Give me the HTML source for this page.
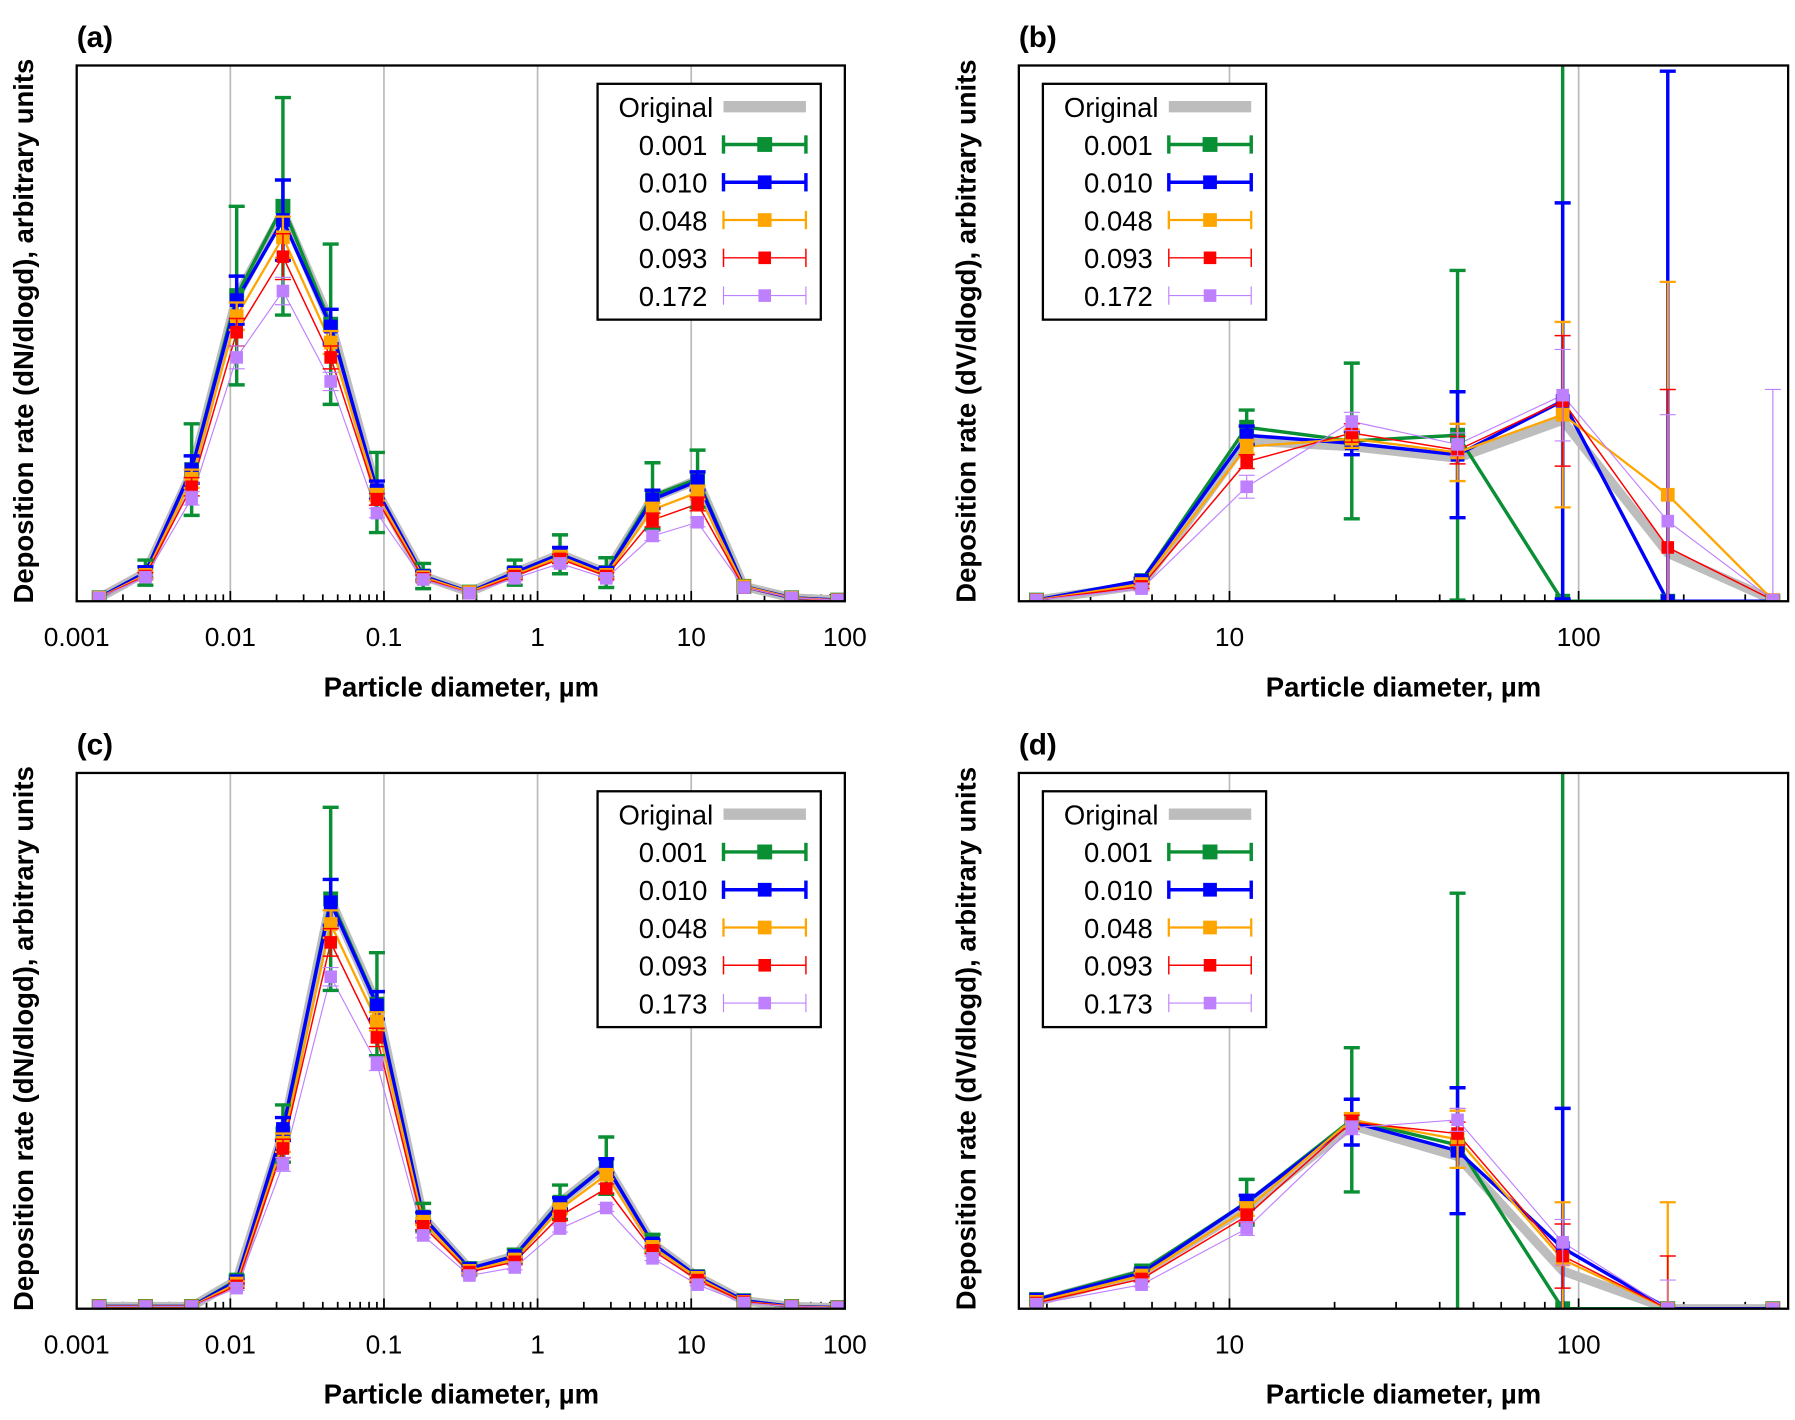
<!DOCTYPE html>
<html><head><meta charset="utf-8"><style>
html,body{margin:0;background:#fff;width:1795px;height:1420px;overflow:hidden}
svg{display:block}
text{font-family:"Liberation Sans",Arial,sans-serif}
</style></head><body>
<svg id="fig" width="1795" height="1420" viewBox="0 0 1568 1240" xmlns="http://www.w3.org/2000/svg"></svg>
<script>
const NS="http://www.w3.org/2000/svg";
// ---- data (values in arbitrary units) ----
const xA=[0.0014,0.0028,0.0056,0.011,0.022,0.045,0.09,0.18,0.36,0.71,1.4,2.8,5.6,11,22,45,90];
const xB=[2.8,5.6,11.2,22.4,45,90,180,360];
const seriesNames=["0.001","0.010","0.048","0.093","0.172"];
const seriesNamesC=["0.001","0.010","0.048","0.093","0.173"];
const aOrig=[3,25,113,266,340,243,96,22,8,25,41,25,90,106,13,3,1];
const aG=[3,25,115,267,345,242,95,22,8,25,41,25,92,107,13,3,1];
const aB=[3,25,115,263,333,240,97,22,8,25,41,25,89,105,13,3,1];
const aO=[3,23,107,249,318,226,93,21,8,23,39,23,80,95,13,3,1];
const aR=[3,22,100,235,301,213,89,20,7,22,37,22,71,85,12,3,1];
const aP=[3,21,90,213,271,192,77,19,7,20,33,20,57,69,12,3,1];
const aGe=[0,11,40,78,95,70,35,11,0,11,17,13,29,25,0,0,0];
const aBe=[0,5,12,21,35,15,8,4,0,4,6,4,8,8,0,0,0];
const aOe=[0,3,8,12,18,10,5,3,0,3,4,3,6,6,0,0,0];
const aRe=[0,3,8,12,20,10,5,3,0,3,4,3,6,6,0,0,0];
const aPe=[0,2,6,10,12,8,4,2,0,2,3,2,4,4,0,0,0];
const bOrig=[1,14,140,135,125,158,42,1];
const bG=[1,18,152,140,145,0,0,0];
const bB=[1,18,145,138,128,175,0,0];
const bO=[1,15,135,142,130,163,93,1];
const bR=[1,13,122,147,132,175,47,1];
const bP=[1,11,100,157,137,180,70,1];
const bGe=[0,2,15,68,144,470,0,0];
const bBe=[0,2,8,10,55,173,463,0];
const bOe=[0,2,6,8,25,81,186,0];
const bRe=[0,2,6,8,12,57,138,0];
const bPe=[0,2,10,8,10,40,93,184];
const cOrig=[2,2,2,25,154,357,266,80,35,46,93,125,57,28,7,2,1];
const cG=[2,2,2,25,153,358,266,80,35,46,93,125,57,28,7,2,1];
const cB=[2,2,2,24,157,355,265,80,35,46,92,125,57,28,7,2,1];
const cO=[2,2,2,22,145,336,251,76,33,43,87,117,54,27,6,2,1];
const cR=[2,2,2,20,140,320,237,72,32,41,81,105,51,25,6,2,1];
const cP=[2,2,2,18,126,290,214,64,29,36,70,88,44,21,5,2,1];
const cGe=[0,0,0,4,25,80,45,12,5,6,15,25,8,4,0,0,0];
const cBe=[0,0,0,2,10,20,12,4,2,2,5,6,3,2,0,0,0];
const cOe=[0,0,0,2,8,12,8,3,2,2,4,4,3,2,0,0,0];
const cRe=[0,0,0,2,8,12,8,3,2,2,4,4,3,2,0,0,0];
const cPe=[0,0,0,2,6,8,6,2,1,2,3,3,2,1,0,0,0];
const dOrig=[6,31,88,160,133,33,0,0];
const dG=[8,33,93,165,143,0,0,0];
const dB=[8,31,93,163,138,53,0,0];
const dO=[6,29,87,165,148,43,0,0];
const dR=[5,26,81,163,153,46,0,0];
const dP=[4,21,70,158,165,58,0,0];
const dGe=[0,2,20,63,220,470,0,0];
const dBe=[0,2,6,20,55,122,0,0];
const dOe=[0,2,6,6,25,50,93,0];
const dRe=[0,2,6,6,10,28,46,0];
const dPe=[0,2,6,6,10,20,25,0];
const xTicksA=["0.001","0.01","0.1","1","10","100"];
const xTicksB=["10","100"];

const styles=[
 {c:"#0a8f35",w:3,m:13,cap:14},
 {c:"#0000ff",w:3,m:12,cap:14},
 {c:"#ffa500",w:2,m:12,cap:14},
 {c:"#ff0000",w:1.3,m:11,cap:14},
 {c:"#bf80ff",w:1,m:11,cap:14}];

const svg=document.getElementById("fig");
function el(tag,attrs,parent){const e=document.createElementNS(NS,tag);for(const k in attrs)e.setAttribute(k,attrs[k]);(parent||svg).appendChild(e);return e;}

function panel(o){
  const g=el("g",{});
  
  
  const L=o.x0,R=o.x1,T=o.y0,B=o.y0+468;
  const sx=v=>L+(Math.log10(v)-o.lo)/(o.hi-o.lo)*(R-L);
  const sy=v=>B-v;
  const cy=y=>Math.max(T,Math.min(B,y));
  const cid="clip"+o.id;
  const cp=el("clipPath",{id:cid},g);el("rect",{x:L,y:T,width:R-L,height:468},cp);
  for(let d=Math.ceil(o.lo);d<=Math.floor(o.hi);d++){
    const x=sx(Math.pow(10,d));
    if(x>L+1&&x<R-1){const gl=el("line",{x1:x,x2:x,y1:T,y2:B,stroke:"#bbb","stroke-width":1.5},g);
      }
  }
  for(let d=Math.floor(o.lo);d<=Math.ceil(o.hi);d++){
    for(let k=1;k<10;k++){const v=k*Math.pow(10,d);const x=sx(v);
      if(x<L-0.5||x>R+0.5)continue;
      const t=el("line",{x1:x,x2:x,y1:B,y2:B-(k==1?9:6),stroke:"#000","stroke-width":1.5},g);
      }
  }
  const pg=el("g",{"clip-path":"url(#"+cid+")"},g);
  const pts=o.xs.map((x,i)=>sx(x)+","+sy(o.orig[i])).join(" ");
  const ol=el("polyline",{points:pts,fill:"none",stroke:"#bdbdbd","stroke-width":8,"stroke-linejoin":"round"},pg);
  
  o.series.forEach((s,k)=>{
    const st=styles[k];
    const sg=el("g",{},pg);
    
    
    el("polyline",{points:o.xs.map((x,i)=>sx(x)+","+sy(s[i])).join(" "),fill:"none",stroke:st.c,"stroke-width":st.w},sg);
  });
  o.series.forEach((s,k)=>{
    const st=styles[k];const er=o.errs[k];
    const sg=el("g",{},pg);
    
    
    o.xs.forEach((x,i)=>{
      const X=sx(x);
      if(er[i]>0){
        const r1=sy(s[i]+er[i]),r2=sy(s[i]-er[i]);
        const y1=cy(r1),y2=cy(r2);
        el("line",{x1:X,x2:X,y1:y1,y2:y2,stroke:st.c,"stroke-width":st.w},sg);
        if(r1>=T)el("line",{x1:X-st.cap/2,x2:X+st.cap/2,y1:y1,y2:y1,stroke:st.c,"stroke-width":st.w},sg);
        if(r2<=B)el("line",{x1:X-st.cap/2,x2:X+st.cap/2,y1:y2,y2:y2,stroke:st.c,"stroke-width":st.w},sg);
      }
      const m=el("rect",{x:X-st.m/2,y:sy(s[i])-st.m/2,width:st.m,height:st.m,fill:st.c},sg);
      
      
    });
  });
  const fr=el("rect",{x:L,y:T,width:R-L,height:468,fill:"none",stroke:"#000","stroke-width":2},g);
  
  o.ticks.forEach(t=>{const tx=el("text",{x:sx(parseFloat(t)),y:B+39,"font-size":23,"text-anchor":"middle"},g);tx.textContent=t;
    });
  const xt=el("text",{x:(o.titleX),y:B+83,"font-size":24,"font-weight":"bold","text-anchor":"middle"},g);
  xt.textContent="Particle diameter, µm";
  
  const yt=el("text",{x:0,y:0,"font-size":24,"font-weight":"bold","text-anchor":"middle",transform:`translate(${L-38},${T+232}) rotate(-90)`},g);
  yt.textContent=o.ytitle;
  
  const pl=el("text",{x:L,y:T-16,"font-size":26,"font-weight":"bold"},g);pl.textContent="("+o.id+")";
  
  const lg=el("g",{},g);
  
  const lx=o.legX,ly=T+16;
  el("rect",{x:lx,y:ly,width:195,height:206,fill:"#fff",stroke:"#000","stroke-width":2},lg);
  const ot=el("text",{x:lx+101,y:ly+29,"font-size":24,"text-anchor":"end"},lg);ot.textContent="Original";
  el("line",{x1:lx+110,x2:lx+182,y1:ly+20,y2:ly+20,stroke:"#bdbdbd","stroke-width":10},lg);
  o.names.forEach((n,k)=>{
    const st=styles[k];const y=ly+53+33*k;
    const e=el("g",{},lg);
    
    
    const t=el("text",{x:lx+96,y:y+9,"font-size":24,"text-anchor":"end"},e);t.textContent=n;
    el("line",{x1:lx+110,x2:lx+182,y1:y,y2:y,stroke:st.c,"stroke-width":st.w},e);
    el("line",{x1:lx+110,x2:lx+110,y1:y-8,y2:y+8,stroke:st.c,"stroke-width":st.w},e);
    el("line",{x1:lx+182,x2:lx+182,y1:y-8,y2:y+8,stroke:st.c,"stroke-width":st.w},e);
    el("rect",{x:lx+146-st.m/2,y:y-st.m/2,width:st.m,height:st.m,fill:st.c},e);
  });
}
const bLo=0.3967,bHi=2.6;
panel({id:"a",x0:67,x1:738,y0:57,lo:-3,hi:2,xs:xA,orig:aOrig,series:[aG,aB,aO,aR,aP],errs:[aGe,aBe,aOe,aRe,aPe],names:seriesNames,ticks:xTicksA,legX:522,titleX:403,ytitle:"Deposition rate (dN/dlogd), arbitrary units"});
panel({id:"b",x0:890,x1:1562,y0:57,lo:bLo,hi:bHi,xs:xB,orig:bOrig,series:[bG,bB,bO,bR,bP],errs:[bGe,bBe,bOe,bRe,bPe],names:seriesNames,ticks:xTicksB,legX:911,titleX:1226,ytitle:"Deposition rate (dV/dlogd), arbitrary units"});
panel({id:"c",x0:67,x1:738,y0:675,lo:-3,hi:2,xs:xA,orig:cOrig,series:[cG,cB,cO,cR,cP],errs:[cGe,cBe,cOe,cRe,cPe],names:seriesNamesC,ticks:xTicksA,legX:522,titleX:403,ytitle:"Deposition rate (dN/dlogd), arbitrary units"});
panel({id:"d",x0:890,x1:1562,y0:675,lo:bLo,hi:bHi,xs:xB,orig:dOrig,series:[dG,dB,dO,dR,dP],errs:[dGe,dBe,dOe,dRe,dPe],names:seriesNamesC,ticks:xTicksB,legX:911,titleX:1226,ytitle:"Deposition rate (dV/dlogd), arbitrary units"});
</script>
</body></html>
